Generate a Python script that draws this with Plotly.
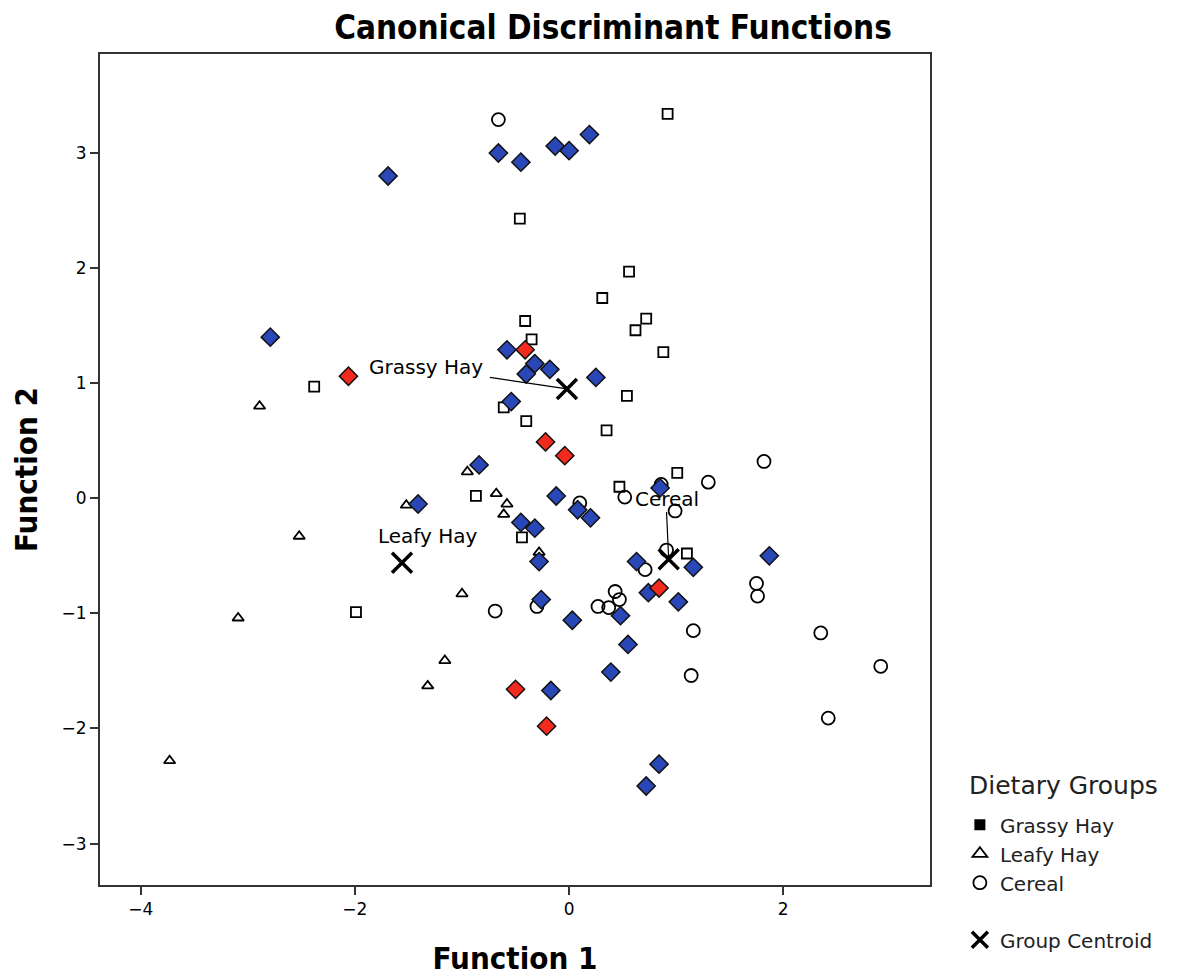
import plotly.graph_objects as go

# ---- data (Function 1, Function 2) ----
grassy_blue_x = [-0.66, -0.45, -0.13, 0.00, 0.19, -1.69, -2.79, -0.58, -0.32, -0.18, -0.40, 0.25,
                 -0.54, -0.84, -1.41, 0.85, -0.12, 0.08, 0.20, -0.45, -0.32, -0.28, 1.16, 0.63,
                 1.87, 0.74, 1.02, 0.48, -0.26, 0.03, 0.55, 0.39, -0.17, 0.84, 0.72]
grassy_blue_y = [3.00, 2.92, 3.06, 3.02, 3.16, 2.80, 1.40, 1.29, 1.17, 1.12, 1.08, 1.05,
                 0.84, 0.29, -0.05, 0.09, 0.02, -0.10, -0.17, -0.21, -0.26, -0.55, -0.60, -0.55,
                 -0.50, -0.82, -0.90, -1.02, -0.88, -1.06, -1.27, -1.51, -1.67, -2.31, -2.50]

grassy_red_x = [-2.06, -0.41, -0.22, -0.04, 0.84, -0.50, -0.21]
grassy_red_y = [1.06, 1.29, 0.49, 0.37, -0.78, -1.66, -1.98]

square_x = [0.92, -0.46, 0.56, 0.31, -0.41, 0.72, 0.62, -0.35, 0.88, -2.38, 0.54, -0.61,
            -0.40, 0.35, 1.01, 0.47, -0.87, -0.44, 1.10, -1.99]
square_y = [3.34, 2.43, 1.97, 1.74, 1.54, 1.56, 1.46, 1.38, 1.27, 0.97, 0.89, 0.79,
            0.67, 0.59, 0.22, 0.10, 0.02, -0.34, -0.48, -0.99]

leafy_x = [-2.89, -0.95, -0.68, -0.58, -0.61, -1.52, -2.52, -1.00, -3.09, -1.16, -1.32, -3.73, -0.28]
leafy_y = [0.80, 0.23, 0.04, -0.05, -0.14, -0.06, -0.33, -0.83, -1.04, -1.41, -1.63, -2.28, -0.47]

cereal_x = [-0.66, 1.82, 1.30, 0.86, 0.52, 0.10, 0.99, 0.91, 0.71, 1.75, 1.76, 0.43, 0.47,
            0.37, 0.27, -0.30, -0.69, 1.16, 2.35, 2.91, 1.14, 2.42]
cereal_y = [3.29, 0.32, 0.14, 0.12, 0.01, -0.04, -0.11, -0.45, -0.62, -0.74, -0.85, -0.81, -0.88,
            -0.95, -0.94, -0.94, -0.98, -1.15, -1.17, -1.46, -1.54, -1.91]

centroid_names = ["Grassy Hay", "Leafy Hay", "Cereal"]
centroid_x = [-0.02, -1.56, 0.93]
centroid_y = [0.95, -0.56, -0.53]
label_x = [-1.34, -1.32, 0.91]
label_y = [1.14, -0.33, -0.01]
leader_x = [-0.74, None, 0.91]
leader_y = [1.05, None, -0.12]

x_ticks = [-4, -2, 0, 2]
x_tick_labels = ["−4", "−2", "0", "2"]
y_ticks = [-3, -2, -1, 0, 1, 2, 3]
y_tick_labels = ["−3", "−2", "−1", "0", "1", "2", "3"]

LABEL_FONT = "DejaVu Sans, Open Sans, sans-serif"
TITLE_FONT = "Liberation Sans Narrow, DejaVu Sans Condensed, Arial Narrow, sans-serif"

fig = go.Figure()

# open squares (no legend)
fig.add_trace(go.Scatter(x=square_x, y=square_y, mode="markers", showlegend=False,
                         marker=dict(symbol="square-open", size=10, color="black",
                                     line=dict(width=1.8, color="black"))))
# leafy hay triangles
fig.add_trace(go.Scatter(x=leafy_x, y=leafy_y, mode="markers", showlegend=False,
                         marker=dict(symbol="triangle-up-open", size=10, color="black",
                                     line=dict(width=1.8, color="black"))))
# cereal circles
fig.add_trace(go.Scatter(x=cereal_x, y=cereal_y, mode="markers", showlegend=False,
                         marker=dict(symbol="circle-open", size=13, color="black",
                                     line=dict(width=1.8, color="black"))))
# grassy hay diamonds
fig.add_trace(go.Scatter(x=grassy_blue_x, y=grassy_blue_y, mode="markers", showlegend=False,
                         marker=dict(symbol="diamond", size=14, color="#2A47B8",
                                     line=dict(width=1.5, color="#111111"))))
fig.add_trace(go.Scatter(x=grassy_red_x, y=grassy_red_y, mode="markers", showlegend=False,
                         marker=dict(symbol="diamond", size=14, color="#F52A1E",
                                     line=dict(width=1.5, color="#111111"))))

# leader lines from labels to centroids
for lx, ly, cx, cy in zip(leader_x, leader_y, centroid_x, centroid_y):
    if lx is None:
        continue
    fig.add_trace(go.Scatter(x=[lx, cx], y=[ly, cy], mode="lines", showlegend=False,
                             line=dict(color="black", width=1.2), hoverinfo="skip"))

# centroids
fig.add_trace(go.Scatter(x=centroid_x, y=centroid_y, mode="markers", showlegend=False,
                         marker=dict(symbol="x-thin-open", size=20, color="black",
                                     line=dict(width=3.5, color="black"))))

# centroid labels
for name, lx, ly in zip(centroid_names, label_x, label_y):
    fig.add_annotation(x=lx, y=ly, text=name, showarrow=False,
                       font=dict(family=LABEL_FONT, size=20, color="black"))

# legend heading
fig.add_annotation(xref="paper", yref="paper", x=1.0446, y=0.120, xanchor="left", yanchor="middle",
                   text="Dietary Groups", showarrow=False,
                   font=dict(family=LABEL_FONT, size=25, color="#222"))

# legend entries
fig.add_trace(go.Scatter(x=[None], y=[None], mode="markers", name="Grassy Hay", legendgroup="g",
                         marker=dict(symbol="square", size=11, color="black")))
fig.add_trace(go.Scatter(x=[None], y=[None], mode="markers", name="Leafy Hay", legendgroup="g",
                         marker=dict(symbol="triangle-up-open", size=13, color="black",
                                     line=dict(width=1.8))))
fig.add_trace(go.Scatter(x=[None], y=[None], mode="markers", name="Cereal", legendgroup="g",
                         marker=dict(symbol="circle-open", size=13, color="black",
                                     line=dict(width=1.8))))
fig.add_trace(go.Scatter(x=[None], y=[None], mode="markers", name="Group Centroid", legendgroup="c",
                         marker=dict(symbol="x-thin-open", size=16, color="black",
                                     line=dict(width=3.5, color="black"))))

# page body has an 8px margin, so the figure is drawn 8px smaller and offset
fig.update_layout(
    width=1177, height=969,
    paper_bgcolor="white", plot_bgcolor="white",
    margin=dict(l=92, r=255, t=46, b=92, autoexpand=False),
    title=dict(text="<b>Canonical Discriminant Functions</b>", x=605 / 1177, xanchor="center",
               y=1 - 19 / 969, yanchor="middle",
               font=dict(family=TITLE_FONT, size=33, color="black")),
    legend=dict(font=dict(family=LABEL_FONT, size=20, color="#222"),
                x=1.036, xanchor="left", y=0.096, yanchor="top",
                traceorder="grouped", tracegroupgap=28, itemsizing="trace",
                bgcolor="rgba(0,0,0,0)"),
    xaxis=dict(range=[-4.38, 3.37], tickvals=x_ticks, ticktext=x_tick_labels,
               showgrid=False, zeroline=False, showline=True, linecolor="#333", linewidth=2,
               mirror=True, ticks="outside", ticklen=8, tickwidth=2, tickcolor="#333",
               automargin=False,
               tickfont=dict(family=LABEL_FONT, size=17, color="black"),
               title=dict(text="<b>Function 1</b>", standoff=29,
                          font=dict(family=TITLE_FONT, size=31, color="black"))),
    yaxis=dict(range=[-3.36, 3.86], tickvals=y_ticks, ticktext=y_tick_labels,
               showgrid=False, zeroline=False, showline=True, linecolor="#333", linewidth=2,
               mirror=True, ticks="outside", ticklen=8, tickwidth=2, tickcolor="#333",
               automargin=False,
               tickfont=dict(family=LABEL_FONT, size=17, color="black"),
               title=dict(text="<b>Function 2</b>", standoff=18,
                          font=dict(family=TITLE_FONT, size=31, color="black"))),
)

fig.write_html("out.html")
